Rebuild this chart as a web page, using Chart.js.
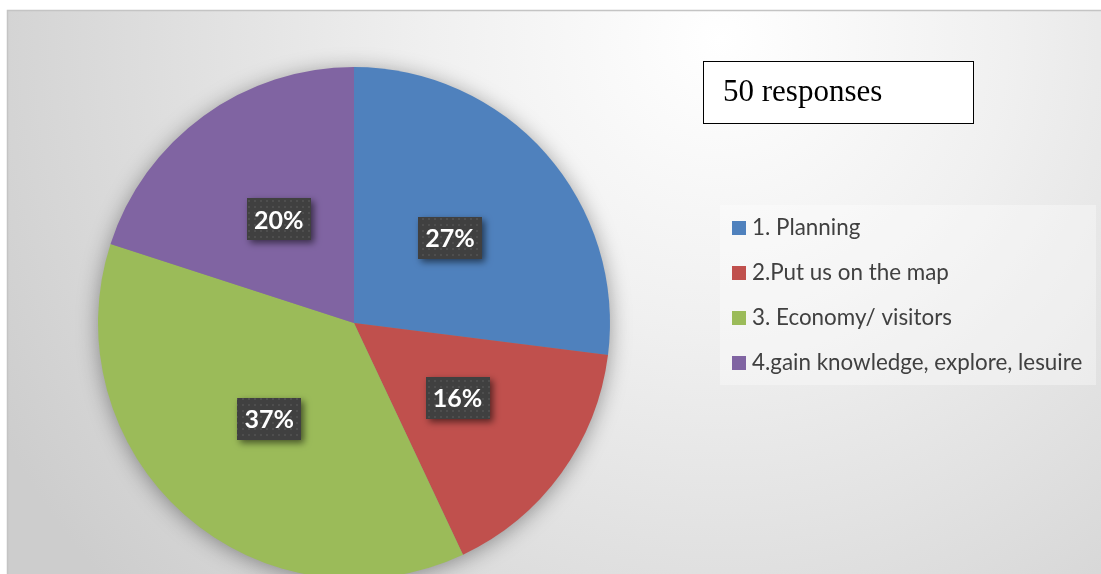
<!DOCTYPE html>
<html>
<head>
<meta charset="utf-8">
<title>Responses</title>
<script src="https://cdn.jsdelivr.net/npm/chart.js@4.4.0/dist/chart.umd.min.js"></script>
<style>
  html, body { margin: 0; padding: 0; background: #fff; overflow: hidden; }
  #wrap { width: 1101px; height: 600px; }
</style>
</head>
<body>
<div id="wrap"><canvas id="pie" width="1101" height="600"></canvas></div>
<script>
const categories = [
  "1. Planning",
  "2.Put us on the map",
  "3. Economy/ visitors",
  "4.gain knowledge, explore, lesuire"
];
const shares = [27, 16, 37, 20];
const sliceColors = ["#4F81BD", "#C0504D", "#9BBB59", "#8064A2"];
const responseNote = "50 responses";

// grey gradient panel with a thin frame on the top and left
const backdrop = {
  id: "backdrop",
  beforeDraw(chart) {
    const ctx = chart.ctx;
    ctx.save();
    ctx.fillStyle = "#ffffff";
    ctx.fillRect(0, 0, chart.width, chart.height);
    const g = ctx.createRadialGradient(720, 40, 0, 720, 40, 820);
    g.addColorStop(0, "#ffffff");
    g.addColorStop(0.35, "#f0f0f0");
    g.addColorStop(1, "#cdcdcd");
    ctx.fillStyle = g;
    ctx.fillRect(7, 10, chart.width - 7, chart.height - 10);
    ctx.strokeStyle = "#c4c4c4";
    ctx.lineWidth = 1.5;
    ctx.beginPath();
    ctx.moveTo(7.5, chart.height);
    ctx.lineTo(7.5, 10.5);
    ctx.lineTo(chart.width, 10.5);
    ctx.stroke();
    ctx.restore();
  }
};

// soft shadow under the whole pie
const pieShadow = {
  id: "pieShadow",
  beforeDatasetsDraw(chart) {
    const arc = chart.getDatasetMeta(0).data[0];
    if (!arc) return;
    const ctx = chart.ctx;
    ctx.save();
    ctx.shadowColor = "rgba(0,0,0,0.4)";
    ctx.shadowBlur = 22;
    ctx.shadowOffsetY = 3;
    ctx.fillStyle = "#888";
    ctx.beginPath();
    ctx.arc(arc.x, arc.y, arc.outerRadius - 1, 0, Math.PI * 2);
    ctx.fill();
    ctx.restore();
  }
};

function dotPattern(ctx) {
  const c = document.createElement("canvas");
  c.width = 6; c.height = 6;
  const p = c.getContext("2d");
  p.fillStyle = "#404040";
  p.fillRect(0, 0, 6, 6);
  p.fillStyle = "#4e4e4e";
  p.fillRect(2, 2, 2, 2);
  return ctx.createPattern(c, "repeat");
}

// dark percentage tags in the middle of each slice
const sliceTags = {
  id: "sliceTags",
  afterDatasetsDraw(chart) {
    const ctx = chart.ctx;
    const meta = chart.getDatasetMeta(0);
    const fill = dotPattern(ctx);
    meta.data.forEach((arc, i) => {
      const pos = arc.getCenterPoint();
      const w = 64, h = 42;
      const x = Math.round(pos.x - w / 2), y = Math.round(pos.y - h / 2);
      ctx.save();
      ctx.shadowColor = "rgba(0,0,0,0.55)";
      ctx.shadowBlur = 7;
      ctx.shadowOffsetX = 3;
      ctx.shadowOffsetY = 3;
      ctx.fillStyle = fill;
      ctx.fillRect(x, y, w, h);
      ctx.restore();
      ctx.save();
      ctx.fillStyle = "#ffffff";
      ctx.font = "bold 25px Lato";
      ctx.textAlign = "center";
      ctx.textBaseline = "middle";
      ctx.fillText(shares[i] + "%", pos.x, pos.y + 1);
      ctx.restore();
    });
  }
};

// "50 responses" note and the legend on the right
const sideInfo = {
  id: "sideInfo",
  afterDraw(chart) {
    const ctx = chart.ctx;
    ctx.save();
    ctx.fillStyle = "#ffffff";
    ctx.fillRect(703, 61, 270, 62);
    ctx.strokeStyle = "#000000";
    ctx.lineWidth = 1;
    ctx.strokeRect(703.5, 61.5, 270, 62);
    ctx.fillStyle = "#000000";
    ctx.font = "31px 'Liberation Serif'";
    ctx.textBaseline = "alphabetic";
    ctx.fillText(responseNote, 723, 101);

    ctx.fillStyle = "rgba(255,255,255,0.35)";
    ctx.fillRect(720, 205, 376, 180);
    ctx.font = "22.4px Lato";
    ctx.textBaseline = "middle";
    categories.forEach((name, i) => {
      const cy = 227.5 + i * 45.2;
      ctx.fillStyle = sliceColors[i];
      ctx.fillRect(732, Math.round(cy - 7), 14, 14);
      ctx.fillStyle = "#404040";
      ctx.fillText(name, 752, cy);
    });
    ctx.restore();
  }
};

new Chart(document.getElementById("pie"), {
  type: "pie",
  data: {
    labels: categories,
    datasets: [{
      data: shares,
      backgroundColor: sliceColors,
      borderWidth: 0
    }]
  },
  options: {
    responsive: false,
    devicePixelRatio: 1,
    animation: false,
    layout: { padding: { top: 67, left: 98, right: 491, bottom: 21 } },
    plugins: {
      legend: { display: false },
      tooltip: { enabled: false }
    }
  },
  plugins: [backdrop, pieShadow, sliceTags, sideInfo]
});
</script>
</body>
</html>
